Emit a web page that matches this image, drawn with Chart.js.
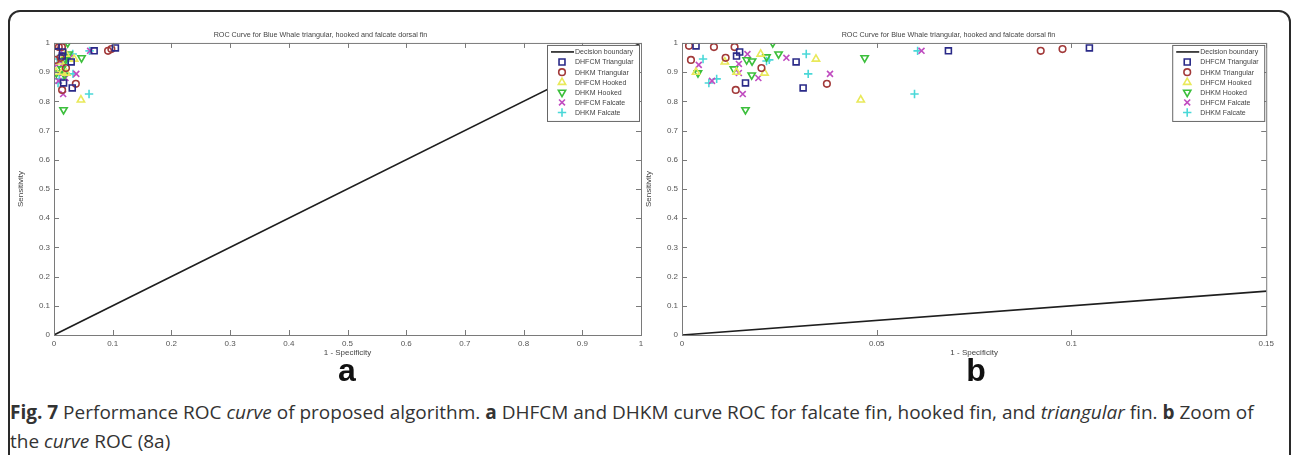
<!DOCTYPE html>
<html>
<head>
<meta charset="utf-8">
<script src="https://cdn.jsdelivr.net/npm/chart.js@4.4.1/dist/chart.umd.min.js"></script>
<style>
  body { margin: 0; background: #fff; width: 1292px; height: 455px; overflow: hidden; position: relative; font-family: "Open Sans", sans-serif; }
  #frame { position: absolute; left: 8px; top: 10px; width: 1283px; height: 520px; border: 2px solid #2a2a2a; border-radius: 12px; box-sizing: border-box; }
  canvas { position: absolute; top: 0; }
  #rocA { left: 0; }
  #rocB { left: 628px; }
  .panel { position: absolute; top: 352px; width: 60px; text-align: center; font: bold 32px "Liberation Sans", Arial, sans-serif; color: #111; }
  #caption { position: absolute; left: 10px; top: 398px; font-size: 19px; line-height: 29px; color: #333; white-space: nowrap; }
</style>
</head>
<body>
<div id="frame"></div>
<canvas id="rocA" width="650" height="370"></canvas>
<canvas id="rocB" width="650" height="370"></canvas>
<div class="panel" style="left:317px">a</div>
<div class="panel" style="left:946px">b</div>
<div id="caption"><b>Fig. 7</b> Performance ROC <i>curve</i> of proposed algorithm. <b>a</b> DHFCM and DHKM curve ROC for falcate fin, hooked fin, and <i>triangular</i> fin. <b>b</b> Zoom of<br>the <i>curve</i> ROC (8a)</div>
<script>
// values; panel (a) shows the same points on 0..1
const diagX = [0, 1];
const diagY = [0, 1];

const fcmTriX = [0.0036, 0.0148, 0.0140, 0.0163, 0.0293, 0.0311, 0.0684, 0.1046];
const fcmTriY = [0.990, 0.969, 0.955, 0.863, 0.935, 0.846, 0.973, 0.983];

const kmTriX = [0.0018, 0.0082, 0.0135, 0.0023, 0.0112, 0.0204, 0.0138, 0.0372, 0.0921, 0.0977];
const kmTriY = [0.990, 0.986, 0.986, 0.942, 0.949, 0.914, 0.839, 0.860, 0.973, 0.979];

const fcmHookX = [0.0036, 0.0110, 0.0140, 0.0202, 0.0212, 0.0344, 0.0459];
const fcmHookY = [0.900, 0.935, 0.900, 0.962, 0.897, 0.945, 0.805];

const kmHookX = [0.0041, 0.0133, 0.0163, 0.0166, 0.0180, 0.0217, 0.0179, 0.0233, 0.0248, 0.0469];
const kmHookY = [0.897, 0.911, 0.771, 0.942, 0.938, 0.952, 0.890, 1.000, 0.962, 0.949];

const fcmFalX = [0.0043, 0.0077, 0.0168, 0.0146, 0.0146, 0.0156, 0.0196, 0.0268, 0.0380, 0.0615];
const fcmFalY = [0.925, 0.870, 0.962, 0.928, 0.897, 0.825, 0.880, 0.949, 0.894, 0.973];

const kmFalX = [0.0054, 0.0069, 0.0089, 0.0217, 0.0224, 0.0319, 0.0324, 0.0597, 0.0605];
const kmFalY = [0.945, 0.863, 0.877, 0.938, 0.942, 0.962, 0.894, 0.825, 0.973];

const xTicksA = [0, 0.1, 0.2, 0.3, 0.4, 0.5, 0.6, 0.7, 0.8, 0.9, 1];
const xTicksB = [0, 0.05, 0.1, 0.15];
const yTicks = [0, 0.1, 0.2, 0.3, 0.4, 0.5, 0.6, 0.7, 0.8, 0.9, 1];

const titleText = 'ROC Curve for Blue Whale triangular, hooked and falcate dorsal fin';
const smallFont = { family: '"Liberation Sans", Arial, sans-serif', size: 8, weight: 'normal' };
const titleFont = { family: '"Liberation Sans", Arial, sans-serif', size: 7.2, weight: 'normal' };
const labelGray = '#555';

const pts = (xs, ys) => xs.map((x, i) => ({ x: x, y: ys[i] }));

function series() {
    const mk = (label, xs, ys, color, style, rot) => ({
        type: 'scatter', label: label, data: pts(xs, ys),
        pointStyle: style, rotation: rot || 0, pointRadius: style === 'circle' ? 3.3 : 4.2,
        borderColor: color, backgroundColor: 'rgba(0,0,0,0)', pointBorderWidth: 1.6
    });
    return [
        { type: 'line', label: 'Decision boundary', data: pts(diagX, diagY),
          borderColor: '#1e1e1e', borderWidth: 1.6, pointRadius: 0, fill: false },
        mk('DHFCM Triangular', fcmTriX, fcmTriY, '#2a2a88', 'rect'),
        mk('DHKM Triangular', kmTriX, kmTriY, '#a23a3a', 'circle'),
        mk('DHFCM Hooked', fcmHookX, fcmHookY, '#e9e95a', 'triangle'),
        mk('DHKM Hooked', kmHookX, kmHookY, '#3cbf3c', 'triangle', 180),
        mk('DHFCM Falcate', fcmFalX, fcmFalY, '#c04cc0', 'crossRot'),
        mk('DHKM Falcate', kmFalX, kmFalY, '#4ad8d8', 'cross')
    ];
}

// MATLAB style box with inward ticks on all four sides
const boxTicks = {
    id: 'boxTicks',
    afterDatasetsDraw(chart) {
        const { ctx, chartArea: a, scales } = chart;
        ctx.save();
        ctx.strokeStyle = '#7a7a7a';
        ctx.lineWidth = 1;
        ctx.strokeRect(a.left + 0.5, a.top + 0.5, a.right - a.left, a.bottom - a.top);
        ctx.beginPath();
        scales.x.ticks.forEach(t => {
            const px = Math.round(scales.x.getPixelForValue(t.value)) + 0.5;
            ctx.moveTo(px, a.bottom); ctx.lineTo(px, a.bottom - 5);
            ctx.moveTo(px, a.top); ctx.lineTo(px, a.top + 5);
        });
        scales.y.ticks.forEach(t => {
            const py = Math.round(scales.y.getPixelForValue(t.value)) + 0.5;
            ctx.moveTo(a.left, py); ctx.lineTo(a.left + 5, py);
            ctx.moveTo(a.right, py); ctx.lineTo(a.right - 5, py);
        });
        ctx.stroke();
        ctx.restore();
    }
};

const boxLegend = {
    id: 'boxLegend',
    afterDraw(chart) {
        const { ctx, chartArea: a } = chart;
        const w = 92, h = 76;
        const x0 = a.right - w - 2, y0 = a.top + 2;
        ctx.save();
        ctx.fillStyle = '#fff';
        ctx.fillRect(x0, y0, w, h);
        ctx.strokeStyle = '#666';
        ctx.lineWidth = 1;
        ctx.strokeRect(x0 + 0.5, y0 + 0.5, w, h);
        ctx.font = '7px "Liberation Sans", Arial, sans-serif';
        ctx.textBaseline = 'middle';
        chart.data.datasets.forEach((ds, i) => {
            const y = y0 + 7 + i * 10.1;
            if (ds.type === 'line') {
                ctx.strokeStyle = ds.borderColor;
                ctx.lineWidth = 1.6;
                ctx.beginPath();
                ctx.moveTo(x0 + 4, y); ctx.lineTo(x0 + 27, y);
                ctx.stroke();
            } else {
                ctx.strokeStyle = ds.borderColor;
                ctx.fillStyle = 'rgba(0,0,0,0)';
                ctx.lineWidth = ds.pointBorderWidth;
                Chart.helpers.drawPoint(ctx, { pointStyle: ds.pointStyle, rotation: ds.rotation, radius: ds.pointRadius, borderWidth: ds.pointBorderWidth }, x0 + 15, y);
            }
            ctx.fillStyle = '#444';
            ctx.fillText(ds.label, x0 + 28, y + 0.5);
        });
        ctx.restore();
    }
};

function makeChart(id, xMax, xTicks) {
    const fixTicks = list => scale => { scale.ticks = list.map(v => ({ value: v })); };
    return new Chart(document.getElementById(id), {
        data: { datasets: series() },
        options: {
            responsive: false,
            animation: false,
            layout: { padding: { left: 0, right: 9, top: 0, bottom: 7 } },
            plugins: {
                legend: { display: false },
                tooltip: { enabled: false },
                title: { display: true, text: titleText, color: '#444', font: titleFont, padding: { top: 30.8, bottom: 3.5 } }
            },
            scales: {
                x: {
                    type: 'linear', min: 0, max: xMax,
                    afterBuildTicks: fixTicks(xTicks),
                    afterFit: s => { s.height = 28; },
                    grid: { display: false, drawTicks: false },
                    border: { display: false },
                    ticks: { color: labelGray, font: smallFont, padding: 4, maxRotation: 0, autoSkip: false, callback: v => String(v) },
                    title: { display: true, text: '1 - Specificity', color: '#444', font: smallFont, padding: { top: 0, bottom: 5 } }
                },
                y: {
                    type: 'linear', min: 0, max: 1,
                    afterBuildTicks: fixTicks(yTicks),
                    afterFit: s => { s.width = 54; },
                    grid: { display: false, drawTicks: false },
                    border: { display: false },
                    ticks: { color: labelGray, font: smallFont, padding: 4, autoSkip: false, callback: v => String(v) },
                    title: { display: true, text: 'Sensitivity', color: '#444', font: smallFont, padding: { top: 16, bottom: 0 } }
                }
            }
        },
        plugins: [boxTicks, boxLegend]
    });
}

makeChart('rocA', 1, xTicksA);
makeChart('rocB', 0.15, xTicksB);
</script>
</body>
</html>
